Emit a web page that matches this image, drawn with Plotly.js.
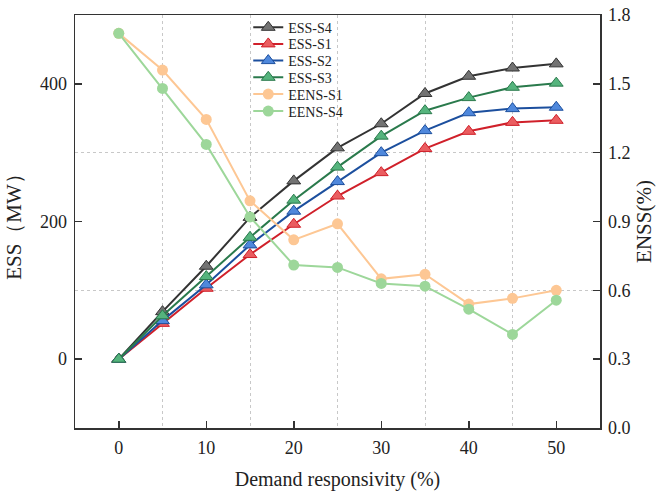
<!DOCTYPE html>
<html><head><meta charset="utf-8">
<script src="https://cdn.plot.ly/plotly-3.0.1.min.js"></script>
<style>body{margin:0}#c{width:657px;height:491px}</style>
</head><body><div id="c"></div>
<script>
const demand = [0, 5, 10, 15, 20, 25, 30, 35, 40, 45, 50];
const essS4 = [0, 69, 135, 206, 259, 307, 342, 386, 411, 423, 429];
const essS1 = [0, 52, 103, 152, 196, 237, 271, 306, 331, 344, 347];
const essS2 = [0, 56, 108, 166, 215, 258, 300, 332, 358, 364, 366];
const essS3 = [0, 63, 120, 177, 231, 279, 324, 361, 380, 395, 401];
const eensS1 = [1.72, 1.56, 1.345, 0.99, 0.82, 0.89, 0.65, 0.67, 0.54, 0.565, 0.60];
const eensS4 = [1.72, 1.48, 1.236, 0.92, 0.71, 0.70, 0.63, 0.618, 0.518, 0.408, 0.557];
const names = ['ESS-S4', 'ESS-S1', 'ESS-S2', 'ESS-S3', 'EENS-S1', 'EENS-S4'];
const legendIds = ['legend', 'legend2', 'legend3', 'legend4', 'legend5', 'legend6'];

function ess(i, y, lc, fc) {
  return {x: demand, y: y, name: names[i], legend: legendIds[i], type: 'scatter', mode: 'lines+markers',
    line: {color: lc, width: 2},
    marker: {symbol: 'triangle-up', size: 12, color: fc, line: {color: lc, width: 1}}};
}
function eens(i, y, c) {
  return {x: demand, y: y, name: names[i], legend: legendIds[i], type: 'scatter', mode: 'lines+markers', yaxis: 'y2',
    line: {color: c, width: 2},
    marker: {symbol: 'circle', size: 11, color: c}};
}
const data = [
  ess(0, essS4, '#333333', '#737373'),
  ess(1, essS1, '#d0202a', '#ea5d60'),
  ess(2, essS2, '#1c4f9e', '#4f88dc'),
  ess(3, essS3, '#2a7a4c', '#55b47d'),
  eens(4, eensS1, '#fdc794'),
  eens(5, eensS4, '#9dd79a')
];
const tf = {family: 'Liberation Serif, Times New Roman, serif', color: '#222'};
const grid = {showgrid: true, gridcolor: '#c8c8c8', griddash: 'dot', gridwidth: 1, ticklen: 0};
const layout = {
  width: 657, height: 491,
  margin: {l: 75, r: 57, t: 15, b: 63},
  paper_bgcolor: '#fff', plot_bgcolor: '#fff',
  font: tf,
  showlegend: true,
  xaxis: {range: [-5, 55], dtick: 10, tick0: 0, showgrid: false, zeroline: false,
    ticks: 'inside', ticklen: 7, tickwidth: 1.5, tickcolor: '#333', ticklabelstandoff: 3,
    showline: true, linecolor: '#333', linewidth: 1.5, mirror: true,
    tickfont: Object.assign({}, tf, {size: 18}),
    minor: Object.assign({dtick: 5, tick0: 0}, grid),
    title: {text: 'Demand responsivity (%)', font: Object.assign({}, tf, {size: 20}), standoff: 15}},
  yaxis: {range: [-100, 500], dtick: 200, tick0: 0, showgrid: false, zeroline: false,
    ticks: 'inside', ticklen: 7, tickwidth: 1.5, tickcolor: '#333', ticklabelstandoff: 3,
    showline: true, linecolor: '#333', linewidth: 1.5,
    tickfont: Object.assign({}, tf, {size: 18}),
    minor: Object.assign({dtick: 100, tick0: 0}, grid),
    title: {text: 'ESS（MW）', font: Object.assign({}, tf, {size: 21}), standoff: 12}},
  yaxis2: {range: [0, 1.8], dtick: 0.3, tick0: 0, overlaying: 'y', side: 'right',
    showgrid: false, zeroline: false, tickformat: '.1f',
    ticks: 'inside', ticklen: 7, tickwidth: 1.5, tickcolor: '#333', ticklabelstandoff: 3,
    showline: true, linecolor: '#333', linewidth: 1.5,
    tickfont: Object.assign({}, tf, {size: 18}),
    title: {text: 'ENSS(%)', font: Object.assign({}, tf, {size: 21}), standoff: 6}}
};
const legendCenters = [27.7, 44.3, 61, 77.7, 94.5, 111.5];
legendIds.forEach((id, i) => {
  layout[id] = {x: 0.33, y: (428 - legendCenters[i]) / 413, xanchor: 'left', yanchor: 'middle',
    bgcolor: 'rgba(0,0,0,0)', font: Object.assign({}, tf, {size: 14}), itemwidth: 30};
});
Plotly.newPlot('c', data, layout, {displayModeBar: false, staticPlot: true});
</script></body></html>
